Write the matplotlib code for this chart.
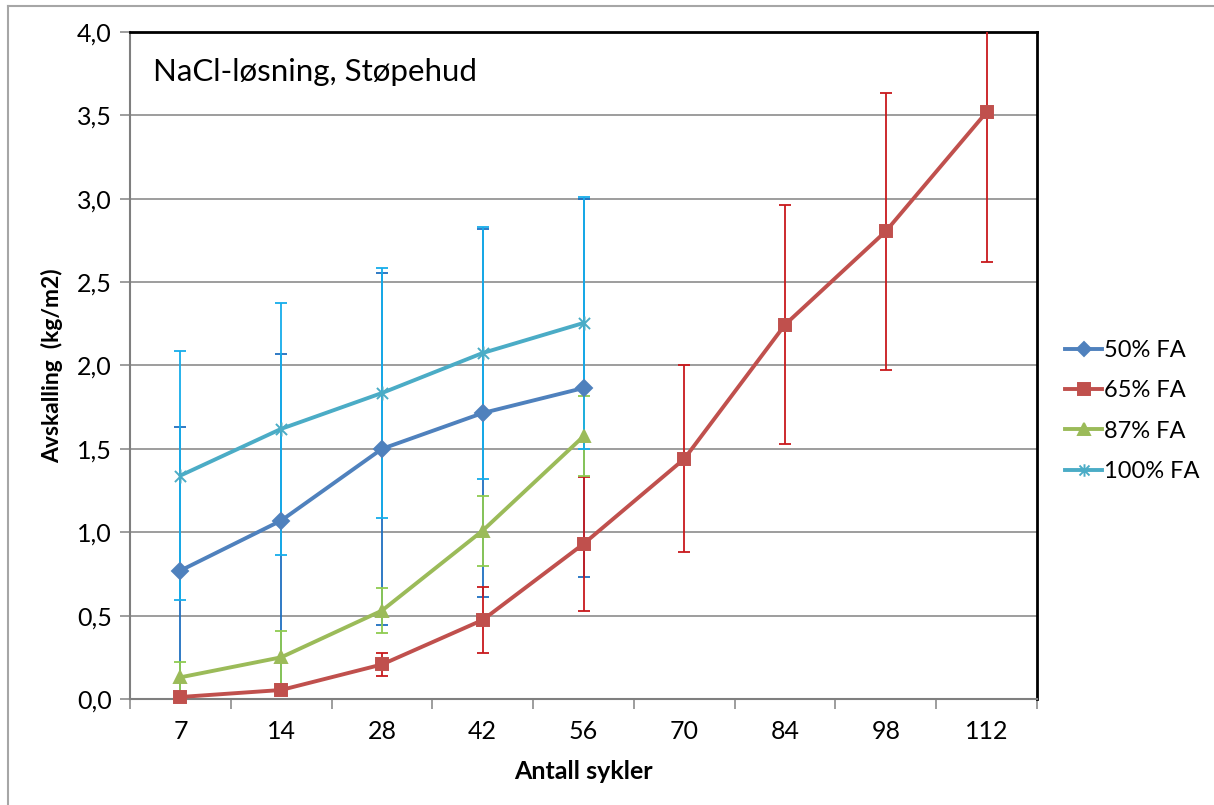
import matplotlib
matplotlib.use("Agg")
import matplotlib.pyplot as plt
from matplotlib.lines import Line2D
from matplotlib.path import Path

plt.rcParams['font.family'] = ['Lato', 'DejaVu Sans']

# antall sykler (kategoriakse)
sykler = ['7', '14', '28', '42', '56', '70', '84', '98', '112']

# avskalling (kg/m2) og standardavvik per serie
fa50 = [0.77, 1.07, 1.50, 1.715, 1.865]
fa50_sd = [0.86, 1.00, 1.055, 1.105, 1.135]
fa65 = [0.012, 0.054, 0.207, 0.474, 0.93, 1.44, 2.245, 2.805, 3.52]
fa65_sd = [0.01, 0.02, 0.067, 0.197, 0.40, 0.56, 0.715, 0.83, 0.90]
fa87 = [0.13, 0.25, 0.53, 1.01, 1.575]
fa87_sd = [0.09, 0.16, 0.135, 0.21, 0.24]
fa100 = [1.34, 1.62, 1.835, 2.075, 2.255]
fa100_sd = [0.745, 0.757, 0.752, 0.758, 0.755]

# stjernemarkør: kryss med loddrett strek
stjerne = Path([(-1, -1), (1, 1), (-1, 1), (1, -1), (0, -1.25), (0, 1.25)],
               [Path.MOVETO, Path.LINETO, Path.MOVETO, Path.LINETO,
                Path.MOVETO, Path.LINETO])

serier = [
    ('50% FA', fa50, fa50_sd, '#4F81BD', '#1F6FC0', 'D', 8),
    ('65% FA', fa65, fa65_sd, '#C0504D', '#C8191C', 's', 9),
    ('87% FA', fa87, fa87_sd, '#9BBB59', '#8FCB50', '^', 9),
    ('100% FA', fa100, fa100_sd, '#4BACC6', '#16ADEA', stjerne, 10),
]

fig = plt.figure(figsize=(12.14, 8.05), dpi=100)
ax = fig.add_axes([130 / 1214, 1 - 699 / 805, 907 / 1214, 667 / 805])

handles = []
for navn, verdier, sd, farge, feilfarge, mk, ms in serier:
    x = list(range(len(verdier)))
    ax.errorbar(x, verdier, yerr=sd, fmt='none', ecolor=feilfarge,
                elinewidth=1.3, capsize=4.5, capthick=1.3, zorder=3)
    ax.plot(x, verdier, color=farge, lw=2.8, marker=mk, ms=ms,
            mec=farge, mfc=farge, mew=1.4, zorder=4, clip_on=False)
    handles.append(Line2D([], [], color=farge, lw=2.8, marker=mk, ms=ms - 1,
                          mec=farge, mfc=farge, mew=1.4))

ax.set_xlim(-0.5, len(sykler) - 0.5)
ax.set_ylim(0, 4.0)
ax.set_xticks(range(len(sykler)))
ax.set_xticklabels(sykler)
ax.set_xticks([i + 0.5 for i in range(-1, len(sykler))], minor=True)
ax.set_yticks([i * 0.5 for i in range(9)])
ax.set_yticklabels([f'{i * 0.5:.1f}'.replace('.', ',') for i in range(9)])

ax.tick_params(axis='x', which='major', length=0, pad=15, labelsize=18)
ax.tick_params(axis='x', which='minor', length=7, color='#8c8c8c', width=1.2)
ax.tick_params(axis='y', length=7, color='#8c8c8c', width=1.2, pad=6,
               labelsize=18)

ax.grid(axis='y', color='#8c8c8c', lw=1.2)
ax.set_axisbelow(True)

for side in ['top', 'right']:
    ax.spines[side].set_color('black')
    ax.spines[side].set_linewidth(2)
for side in ['left', 'bottom']:
    ax.spines[side].set_color('#7f7f7f')
    ax.spines[side].set_linewidth(1.5)

ax.set_xlabel('Antall sykler', fontsize=18, fontweight='bold', labelpad=12)
ax.set_ylabel('Avskalling  (kg/m2)', fontsize=16.5, fontweight='bold',
              labelpad=10)

ax.text(0.025, 0.94, 'NaCl-løsning, Støpehud', transform=ax.transAxes,
        fontsize=22.5, va='center', ha='left')

fig.legend(handles, [s[0] for s in serier], loc='center left',
           bbox_to_anchor=(1056 / 1214, 1 - 411 / 805), frameon=False,
           fontsize=17, handlelength=1.55, handletextpad=0.1,
           labelspacing=0.82, borderaxespad=0)

# ramme rundt diagrammet
fig.add_artist(Line2D([8 / 1214, 8 / 1214], [0, 1 - 6 / 805],
                      color='#a6a6a6', lw=1.5))
fig.add_artist(Line2D([8 / 1214, 1], [1 - 6 / 805, 1 - 6 / 805],
                      color='#a6a6a6', lw=1.5))

fig.savefig('out.png', dpi=100, facecolor='white')
